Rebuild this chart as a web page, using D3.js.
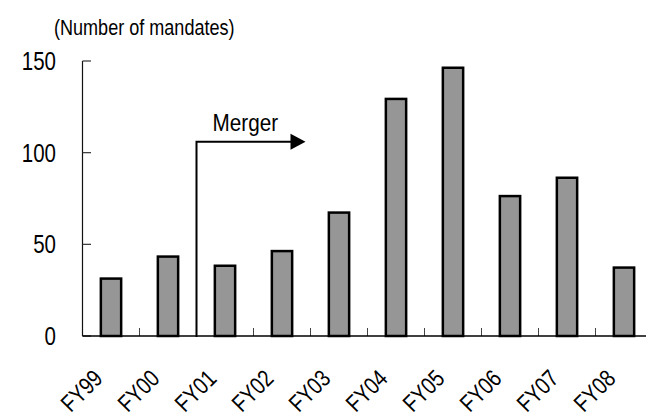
<!DOCTYPE html>
<html><head><meta charset="utf-8">
<script src="https://cdn.jsdelivr.net/npm/d3@7"></script>
<style>
html,body{margin:0;padding:0;background:#fff;}
text{font-family:"Liberation Sans",Arial,sans-serif;fill:#000;}
</style></head>
<body>
<svg id="chart" width="646" height="416"></svg>
<script>
const categories = ["FY99","FY00","FY01","FY02","FY03","FY04","FY05","FY06","FY07","FY08"];
const mandates = [32, 44, 39, 47, 68, 130, 147, 77, 87, 38];
const yTicks = [0, 50, 100, 150];
const unitLabel = "(Number of mandates)";
const mergerLabel = "Merger";
const mergerStart = "FY01";
const mergerEnd = "FY03";
const mergerLevel = 106;

const NARROW = 0.82;
const svg = d3.select("#chart");
const x = d3.scaleBand().domain(categories).range([82.5, 652.5]).padding(0);
const y = d3.scaleLinear().domain([0, 150]).range([336, 61]);
const bw = x.bandwidth();

// unit label
svg.append("text").attr("transform", `translate(54,35) scale(0.84,1)`)
  .attr("font-size", 21.5).text(unitLabel);

// y axis line
svg.append("line").attr("x1", 82.5).attr("x2", 82.5).attr("y1", y(150)).attr("y2", y(0))
  .attr("stroke", "#111").attr("stroke-width", 1.2);
// y ticks (inward)
svg.selectAll(".yt").data(yTicks).enter().append("line")
  .attr("x1", 82.5).attr("x2", 91).attr("y1", d => y(d)).attr("y2", d => y(d))
  .attr("stroke", "#333").attr("stroke-width", 1.2);
svg.selectAll(".yl").data(yTicks).enter().append("text")
  .attr("transform", d => `translate(56,${y(d)}) scale(${NARROW},1)`)
  .attr("dy", "0.36em")
  .attr("text-anchor", "end").attr("font-size", 25).text(d => d);

// x category boundary ticks (upward)
svg.selectAll(".xt").data(categories.slice(1)).enter().append("line")
  .attr("x1", d => x(d)).attr("x2", d => x(d)).attr("y1", y(0)).attr("y2", y(0) - 8)
  .attr("stroke", "#444").attr("stroke-width", 1);

// bars
svg.selectAll(".bar").data(categories).enter().append("rect")
  .attr("x", d => x(d) + bw * 0.3 + 1.25)
  .attr("width", bw * 0.4 - 2.5)
  .attr("y", (d, i) => y(mandates[i]) + 1.25)
  .attr("height", (d, i) => y(0) - y(mandates[i]) - 1.25)
  .attr("fill", "#969696").attr("stroke", "#000").attr("stroke-width", 2.5);

// x axis line
svg.append("line").attr("x1", 82.5).attr("x2", 652).attr("y1", y(0)).attr("y2", y(0))
  .attr("stroke", "#000").attr("stroke-width", 1.5);

// x labels rotated
svg.selectAll(".xl").data(categories).enter().append("text")
  .attr("transform", d => `translate(${x(d) + bw / 2 - 7},${y(0) + 44}) rotate(-45) scale(${NARROW},1)`)
  .attr("text-anchor", "end").attr("font-size", 24).text(d => d);

// merger annotation
const mx = x(mergerStart);
const tipX = x(mergerEnd) - 5;
svg.append("path")
  .attr("d", `M${mx},${y(0) + 1}V${y(mergerLevel)}H${tipX - 14}`)
  .attr("fill", "none").attr("stroke", "#000").attr("stroke-width", 2);
svg.append("path")
  .attr("d", `M${tipX},${y(mergerLevel)}L${tipX - 15},${y(mergerLevel) - 8}L${tipX - 15},${y(mergerLevel) + 8}Z`)
  .attr("fill", "#000");
svg.append("text").attr("transform", `translate(${mx + 16},${y(mergerLevel) - 11}) scale(0.9,1)`)
  .attr("font-size", 23).text(mergerLabel);
</script>
</body></html>
